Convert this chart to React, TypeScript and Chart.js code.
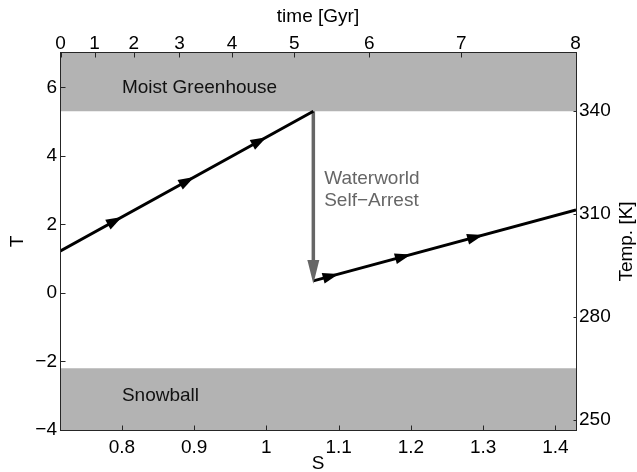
import React, { useEffect, useRef } from 'react';
import { Chart, registerables } from 'chart.js';

Chart.register(...registerables);

const FONT = '"Liberation Sans", Arial, Helvetica, sans-serif';

// ---- axis ranges and ticks ----
const sRange = [0.7143, 1.4286];
const tRange = [-4, 7];
const sTicks = [0.8, 0.9, 1.0, 1.1, 1.2, 1.3, 1.4];
const tTicks = [-4, -2, 0, 2, 4, 6];
const timeLabels = ['0', '1', '2', '3', '4', '5', '6', '7', '8'];
const timeTickS = [0.715, 0.7621, 0.8166, 0.8797, 0.9526, 1.0387, 1.1425, 1.2697, 1.428];
const tempTicks = [250, 280, 310, 340];
const tempAtT0 = 287;
const tempPerT = 10;

// ---- regions ----
const greenhouseT = 5.3;
const snowballT = -2.2;

// ---- trajectory ----
const branch1S = [0.7143, 1.065];
const branch1T = [1.22, 5.3];
const branch2S = [1.065, 1.4286];
const branch2T = [0.35, 2.42];
const arrestS = [1.065, 1.065];
const arrestT = [5.3, 0.96];
const arrestTipT = 0.27;
const branch1ArrowS = [0.8, 0.9, 1.0];
const branch2ArrowS = [1.1, 1.2, 1.3];

// ---- annotations ----
const regionLabels = ['Moist Greenhouse', 'Snowball'];
const regionLabelS = [0.8, 0.8];
const regionLabelT = [6, -3];
const arrestLabel = ['Waterworld', 'Self\u2212Arrest'];
const arrestLabelS = 1.08;
const arrestLabelT = 3;

const pts = (S: number[], T: number[]) => S.map((s, i) => ({ x: s, y: T[i] }));
const minus = (v: number) => (v < 0 ? '\u2212' + Math.abs(v) : String(v));

const customPlugin = {
  id: 'custom',
  afterDatasetsDraw(chart: any) {
    const ctx = chart.ctx;
    const xs = chart.scales.x;
    const ys = chart.scales.y;
    const x2 = chart.scales.x2;
    const y2 = chart.scales.y2;
    const px = (s: number) => xs.getPixelForValue(s);
    const py = (t: number) => ys.getPixelForValue(t);
    const area = chart.chartArea;

    const head = (tx: number, ty: number, ang: number, len: number, half: number, color: string) => {
      const c = Math.cos(ang), s = Math.sin(ang);
      const bx = tx - c * len, by = ty - s * len;
      ctx.save();
      ctx.fillStyle = color;
      ctx.beginPath();
      ctx.moveTo(tx, ty);
      ctx.lineTo(bx - s * half, by + c * half);
      ctx.lineTo(bx + s * half, by - c * half);
      ctx.closePath();
      ctx.fill();
      ctx.restore();
    };
    const headsOn = (S: number[], T: number[], list: number[]) => {
      const x0 = px(S[0]), y0 = py(T[0]), x1 = px(S[1]), y1 = py(T[1]);
      const ang = Math.atan2(y1 - y0, x1 - x0);
      list.forEach((sv) => {
        const f = (sv - S[0]) / (S[1] - S[0]);
        const tv = T[0] + f * (T[1] - T[0]);
        head(px(sv), py(tv), ang, 16, 5.5, '#000');
      });
    };
    headsOn(branch1S, branch1T, branch1ArrowS);
    headsOn(branch2S, branch2T, branch2ArrowS);

    // gray arrest arrow head
    {
      const bx = px(arrestS[1]), by = py(arrestT[1]);
      const tx = px(arrestS[1]), ty = py(arrestTipT);
      const len = Math.hypot(tx - bx, ty - by);
      head(tx, ty, Math.atan2(ty - by, tx - bx), len, 6, '#666666');
    }

    // frame
    ctx.save();
    ctx.strokeStyle = '#262626';
    ctx.lineWidth = 1;
    const L = area.left + 0.5, R = area.right + 0.5, Tp = area.top - 0.5, B = area.bottom + 0.5;
    ctx.strokeRect(L, Tp, R - L, B - Tp);
    ctx.beginPath();
    sTicks.forEach((v) => {
      const x = Math.round(xs.getPixelForValue(v)) + 0.5;
      ctx.moveTo(x, B);
      ctx.lineTo(x, B - 5);
    });
    timeTickS.forEach((v) => {
      const x = Math.round(x2.getPixelForValue(v)) + 0.5;
      ctx.moveTo(x, Tp);
      ctx.lineTo(x, Tp + 5);
    });
    tTicks.forEach((v) => {
      const y = Math.round(ys.getPixelForValue(v)) + 0.5;
      ctx.moveTo(L, y);
      ctx.lineTo(L + 5, y);
    });
    tempTicks.forEach((v) => {
      const y = Math.round(y2.getPixelForValue(v)) + 0.5;
      ctx.moveTo(R, y);
      ctx.lineTo(R - 3, y);
    });
    ctx.stroke();

    // annotations
    ctx.font = '19px ' + FONT;
    ctx.textAlign = 'left';
    ctx.textBaseline = 'middle';
    ctx.fillStyle = '#111';
    regionLabels.forEach((txt, i) => {
      ctx.fillText(txt, px(regionLabelS[i]), py(regionLabelT[i]));
    });
    ctx.fillStyle = '#666666';
    const ax = px(arrestLabelS), ay = py(arrestLabelT);
    ctx.fillText(arrestLabel[0], ax, ay - 10.9);
    ctx.fillText(arrestLabel[1], ax, ay + 10.9);

    // right axis title (reads bottom to top)
    ctx.fillStyle = '#000';
    ctx.translate(631.5, (area.top + area.bottom) / 2);
    ctx.rotate(-Math.PI / 2);
    ctx.textAlign = 'center';
    ctx.textBaseline = 'alphabetic';
    ctx.fillText('Temp. [K]', 0, 0);
    ctx.restore();
  },
};

const tickFont = { family: FONT, size: 19, lineHeight: 1 };
const titleFont = { family: FONT, size: 19, lineHeight: 1 };

export default function App() {
  const ref = useRef<HTMLCanvasElement | null>(null);
  useEffect(() => {
    if (!ref.current) return;
    const band = {
      showLine: true,
      borderWidth: 0,
      pointRadius: 0,
      backgroundColor: '#b3b3b3',
      borderColor: 'rgba(0,0,0,0)',
      order: 10,
    };
    const line = (color: string, w: number) => ({
      showLine: true,
      fill: false,
      borderColor: color,
      borderWidth: w,
      pointRadius: 0,
      borderCapStyle: 'butt',
      order: 1,
    });
    const chart = new Chart(ref.current, {
      type: 'scatter',
      data: {
        datasets: [
          { ...band, data: pts(sRange, [greenhouseT, greenhouseT]), fill: 'end' },
          { ...band, data: pts(sRange, [snowballT, snowballT]), fill: 'start' },
          { ...line('#000', 3), data: pts(branch1S, branch1T) },
          { ...line('#000', 3), data: pts(branch2S, branch2T) },
          { ...line('#666666', 3.5), data: pts(arrestS, arrestT) },
        ] as any,
      },
      options: {
        responsive: false,
        animation: false,
        events: [],
        layout: { padding: 0 },
        plugins: { legend: { display: false }, tooltip: { enabled: false } },
        scales: {
          x: {
            type: 'linear',
            position: 'bottom',
            min: sRange[0],
            max: sRange[1],
            afterBuildTicks: (s: any) => { s.ticks = sTicks.map((v) => ({ value: v })); },
            afterFit: (s: any) => { s.height = 42; },
            grid: { display: false, drawTicks: false },
            border: { display: false },
            ticks: {
              autoSkip: false,
              maxRotation: 0,
              padding: 8.5,
              color: '#000',
              font: tickFont,
              callback: (v: any) => String(Math.round(Number(v) * 10) / 10),
            },
            title: { display: true, text: 'S', color: '#000', font: { ...titleFont, lineHeight: 0.84 }, padding: 0 },
          },
          x2: {
            type: 'linear',
            position: 'top',
            min: sRange[0],
            max: sRange[1],
            afterBuildTicks: (s: any) => { s.ticks = timeTickS.map((v) => ({ value: v })); },
            afterFit: (s: any) => { s.height = 53; },
            grid: { display: false, drawTicks: false },
            border: { display: false },
            ticks: {
              autoSkip: false,
              maxRotation: 0,
              padding: 0,
              color: '#000',
              font: tickFont,
              callback: (_v: any, i: number) => timeLabels[i],
            },
            title: { display: true, text: 'time [Gyr]', color: '#000', font: titleFont, padding: { top: 7.5, bottom: 0 } },
          },
          y: {
            type: 'linear',
            position: 'left',
            min: tRange[0],
            max: tRange[1],
            afterBuildTicks: (s: any) => { s.ticks = tTicks.map((v) => ({ value: v })); },
            afterFit: (s: any) => { s.width = 60; },
            grid: { display: false, drawTicks: false },
            border: { display: false },
            ticks: { autoSkip: false, padding: 3, color: '#000', font: tickFont, callback: (v: any) => minus(Number(v)) },
            title: { display: true, text: 'T', color: '#000', font: titleFont, padding: { top: 8, bottom: 0 } },
          },
          y2: {
            type: 'linear',
            position: 'right',
            min: tempAtT0 + tempPerT * tRange[0],
            max: tempAtT0 + tempPerT * tRange[1],
            afterBuildTicks: (s: any) => { s.ticks = tempTicks.map((v) => ({ value: v })); },
            afterFit: (s: any) => { s.width = 61; },
            grid: { display: false, drawTicks: false },
            border: { display: false },
            ticks: { autoSkip: false, padding: 3, color: '#000', font: tickFont, callback: (v: any) => String(v) },
          },
        },
      } as any,
      plugins: [customPlugin],
    });
    return () => chart.destroy();
  }, []);
  return (
    <div style={{ position: 'absolute', left: 0, top: 0, width: 637, height: 472, background: '#fff' }}>
      <canvas ref={ref} width={637} height={472} style={{ display: 'block' }} />
    </div>
  );
}
